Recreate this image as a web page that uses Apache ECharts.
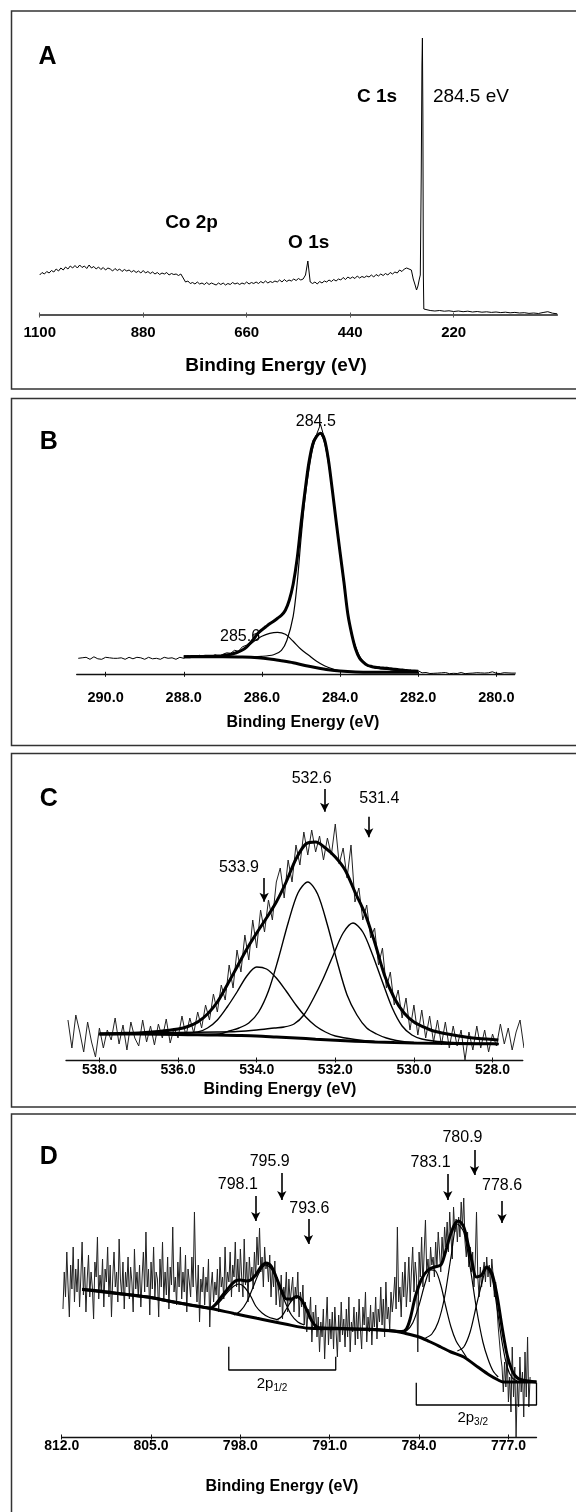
<!DOCTYPE html>
<html><head><meta charset="utf-8">
<script src="https://cdn.jsdelivr.net/npm/echarts@6.0.0/dist/echarts.min.js"></script>
<style>html,body{margin:0;padding:0;background:#fff}#c{width:576px;height:1512px}</style>
</head><body><div id="c"></div>
<script>
// ---------------- Panel A : survey spectrum (intensity, arbitrary units) ----------------
const aSurveyStart = 1100, aSurveyStep = 5;
const aSurvey = [40,42.5,41,43.5,42,44.5,43,46,44,47,45,48,46,49,47,
 49.5,47,50,47.5,49,46.5,50,47,48.5,46,48,45.5,47.5,45,47,46,
 44,46.5,44.5,46,43.5,45.5,44,45,43,44.5,42.5,44,42,44.5,42,43.5,
 41.5,43,41,42.5,40.5,42,41,42.5,40,41.5,40.5,41,39.5,41,
 37,33,34,31.5,32.5,31,33,31,32,30.5,32.5,30.5,32,31,30,32,30.5,32,30,31.5,
 30.5,32.5,31,32,30.5,32,31,33,31,32.5,31.5,33,31.5,33.5,32,34,32,33.5,32.5,34,33,35,33,35.5,33.5,35,34,36,34.5,36.5,35,36,
 40,54,33,
 31.5,33,31,33.5,32,34,33,35,33.5,35.5,34,36,35,37.5,35.5,38,36.5,
 38,36.5,39,37,38.5,37.5,39,38,40,38,40.5,39,41,39.5,41.5,40,42.5,41,43,42,45,43.5,46,47];
const aPeakEnergy = [315,310,306,302,299,296,293,291,289,287.5,286.5,285.5,284.5,283.5,282];
const aPeakIntensity = [46,45,36,30,25,29,36,40,140,250,277,200,40,6,5];
const aTailStart = 280, aTailStep = 10;
const aTail = [5,4.5,4,4.5,3.8,4.2,3.5,4,3.3,3.8,3,3.5,2.8,3.2,2.6,3,2.4,2.8,2.2,2.6,2,2.3,1.6,2,1.5,2.5,3.3,1.8,1.2];
const aTicks = [1100,880,660,440,220];
const aBoldLabels = ['C 1s','Co 2p','O 1s'];
const aBoldLabelX = [383,777.3,528.2];
const aBoldLabelY = [218.3,92.3,72.7];
const aNormLabels = ['284.5 eV'];
const aNormLabelX = [183.4];
const aNormLabelY = [218.3];

// ---------------- Panel B : C 1s ----------------
const bRawHeadStart = 290.7, bRawHeadStep = 0.05;
const bRawHead = [16,15,16.5,15.5,17,16,15,16,17.5,16, 15.5,16.5,15,16,17,16,16.5,15,16,17,
 16,18,16.5,16,15,16.5,17,16,15.5,16, 17,18,16.5,16,15,16.5,17,16,15.5,17,
 16,16.5,15,16,17,15.5,16,17,16.5,16, 15,16,17,16.5,16];
const bRawMidStart = 287.9, bRawMidStep = 0.1;
const bRawMid = [18.5,17,18,19,17.5,18.5,17,19.5,18,20,21.5,21,24,23,27.5,29,32,34,40,44,48,50,54,55,60,63,75,88,117,148,
 184,210,233,240,250,236,214,187,151,124,90,62,38,27,15,13,8,9,6,7.5,5.5,7,4.5,5.5,3.5,4.5,3,4,2.5,3.5];
const bRawTailStart = 281.95, bRawTailStep = 0.05;
const bRawTail = [2,1.5,1,1.8,1.2,0.8,1.5,1,2,1.2,0.8,1.5,1,1.8,1.2,0.6,1.4,1,1.6,0.8,1.2,1.8,1,0.6,1.4,
 1,2,1.2,0.8,1.6,1,1.4,0.8,1.2,2.2,1.5,1,2.5,1.8,1,1.4,0.8,1.2,1.6,1,1.4,0.8,1.2,1,1.2];
const bEnvStart = 288.0, bEnvStep = 0.1;
const bEnv = [17.6,17.6,17.7,17.7,17.8,17.9,18,18.1,18.2,18.3, 18.6,19.2,20,21,22.5,24.3,27,31,36,41,
 44.5,47.5,50.5,53,56,59,64,74,90,115, 150,182,211,230,238,241,235,215,185,153,
 122,92,60,40,25,16,12,9,7.8,7, 6.5,6.2,6,5.5,5,4.6,4.2,3.8,3.5,3.2, 3];
const bComp1 = [[287.6,17.8],[287.2,18.3],[286.9,19.5],[286.6,22],[286.4,27],[286.2,33],[286,38],[285.8,41],[285.6,42],[285.4,40],[285.2,33],[285,25],[284.8,19],[284.6,13],[284.4,8.5],[284.2,5.5],[284,3.5],[283.8,2.6]];
const bComp2 = [[287.5,17.6],[286.5,17.5],[286,18],[285.7,19.5],[285.5,24],[285.36,34],[285.2,58],[285.1,90],[285,135],[284.9,175],[284.8,204],[284.7,226],[284.6,238],[284.52,241],[284.4,232],[284.3,212],[284.2,185],[284.1,153],[284,122],[283.9,90],[283.8,60],[283.7,40],[283.6,27],[283.5,18],[283.4,12.5],[283.3,9],[283.1,6.5],[282.8,5],[282.4,3.5],[282,2.8]];
const bBase = [[288,17.6],[287,17.5],[286.5,17.2],[286.1,16.5],[285.8,15.3],[285.5,13.5],[285.2,11.5],[284.9,8.8],[284.6,6.5],[284.3,4.5],[284,3.2],[283.6,2.4],[283,2.1],[282.5,2],[282,2]];
const bTicks = [290,288,286,284,282,280];
const bLabels = ['284.5','285.6'];
const bLabelX = [284.62,286.56];
const bLabelY = [252.6,37.6];

// ---------------- Panel C : O 1s ----------------
const cRawStart = 538.8, cRawStep = 0.1;
const cRaw = [40,12,45,28,8,38,18,3,32,12, 30,20,42,16,35,10,38,22,14,40, 18,34,15,36,22,41,17,32,22,44,
 24,42,27,48,32,55,40,66,48,75, 60,95,72,110,88,125,100,140,112,150, 128,160,140,178,192,162,200,178,215,195,
 228,205,230,208,224,200,222,205,236,196, 212,182,215,158,172,140,155,122,132,95, 112,72,88,55,70,42,62,30,55,25,
 50,22,44,18,40,15,38,12,34,14, 30,0,28,10,34,12,30,8,26,14, 36,16,32,10,28,40,12];
const cEnv = [[538,26],[537.5,26.5],[537,27],[536.5,28.5],[536,31],[535.75,33.5],[535.5,38],[535.25,46],[535,58],[534.75,75],[534.5,93],[534.25,111],[534,127],[533.75,142],[533.5,158],[533.25,178],[533,201],[532.75,216],[532.5,218],[532.25,212],[532,203],[531.75,190],[531.5,168],[531.25,147],[531,118],[530.75,85],[530.5,62],[530.25,47],[530,38],[529.75,33],[529.5,29],[529,25],[528.5,22],[528,20.5],[527.85,20]];
const cComp1 = [[538,26],[537,26.2],[536,26.5],[535.5,28],[535.25,32],[535,40],[534.75,53],[534.5,68],[534.25,84],[534,93],[533.75,91],[533.5,82],[533.25,69],[533,55],[532.75,43],[532.5,34],[532.25,28],[532,24],[531.5,20.5],[531,18.5],[530,17],[529,16.5],[527.85,16]];
const cComp2 = [[538,26],[536,25.6],[535.5,25.5],[534.95,26],[534.7,29],[534.45,32],[534.2,37],[533.95,48],[533.7,69],[533.45,101],[533.2,137],[532.95,167],[532.7,178],[532.45,166],[532.2,135],[531.95,98],[531.7,65],[531.45,45],[531.2,32],[530.95,26],[530.7,22],[530.45,19.5],[530.2,18],[529.9,17.2],[529,16.5],[527.85,16]];
const cComp3 = [[538,26.5],[537,27],[536,27.5],[535,28],[534.5,28.5],[534,30],[533.55,32],[533.3,33],[533.05,36],[532.8,45],[532.55,62],[532.3,82],[532.05,105],[531.8,127],[531.55,137],[531.3,128],[531.05,105],[530.8,78],[530.55,52],[530.3,34],[530.05,25],[529.8,21],[529.5,19],[529,17.5],[528.5,16.8],[527.85,16.3]];
const cBase = [[538,26],[537,25.9],[536,25.5],[535.5,25.2],[535,24.9],[534.5,24.5],[534,24],[533.5,23],[533,22],[532.5,20.8],[532,19.8],[531.5,18.8],[531,18],[530.5,17.4],[530,17],[529,16.5],[528,16.2],[527.85,16]];
const cTicks = [538,536,534,532,530,528];
const cLabels = ['532.6','531.4','533.9'];
const cLabelX = [532.6,530.88,534.45];
const cLabelY = [281.7,261,192.3];
const cArrowX = [532.27,531.15,533.81];
const cArrowTop = [271,243.3,182];
const cArrowBottom = [248.3,222.7,158.3];

// ---------------- Panel D : Co 2p ----------------
const dRawStart = 811.9, dRawStep = 0.1;
const dRaw = [
 128,165,140,185,150,120,172,148,190,135,
 168,145,178,130,160,195,142,170,125,158,
 182,140,165,150,118,175,160,200,138,162,
 145,178,130,168,155,190,140,172,120,160,
 185,150,165,135,198,158,142,175,128,165,
 150,180,138,170,155,125,188,148,165,140,
 172,130,160,185,145,205,150,168,122,175,
 148,190,140,165,158,120,178,150,195,138,
 165,142,180,128,170,152,210,145,160,132,
 175,150,190,138,165,145,182,125,168,155,
 140,180,150,225,160,135,172,115,158,145,
 170,132,160,145,178,110,150,165,135,155,
 142,168,125,180,150,160,138,190,148,165,
 155,185,140,172,160,195,150,178,145,188,
 160,140,198,152,175,135,180,158,170,148,
 185,160,200,172,209,165,180,150,190,168,
 175,155,182,140,168,150,176,132,160,145,
 130,162,118,150,140,165,125,158,135,148,
 160,125,150,138,165,120,145,130,152,112,
 135,105,128,118,140,95,125,110,132,100,
 120,85,115,100,128,78,112,140,92,118,
 98,125,88,130,105,80,122,95,135,102,
 118,90,128,100,140,85,115,105,130,92,
 125,98,138,108,88,130,112,145,95,120,
 105,132,92,125,110,140,98,128,115,150,
 112,138,100,155,118,130,108,145,125,140,
 160,128,210,135,150,120,165,140,175,130,
 150,180,135,165,190,145,175,160,85,185,
 160,200,150,185,217,165,178,155,190,172,
 180,160,195,170,205,185,165,200,178,210,
 190,215,185,225,200,178,230,205,218,195,
 220,200,235,210,239,195,180,205,170,190,
 165,185,150,175,225,160,140,170,150,165,
 175,155,180,160,172,150,178,162,140,155,
 130,110,95,80,70,45,75,50,85,35,
 60,25,90,40,70,0,55,30,80,45,
 65,20,85,40,100,30,60];
const dEnv = [[810.4,147.5],[809,146],[807.5,143.5],[806,141],[805,139.5],[804,137],[803,134.5],[802,132],[801,130],[800.4,128.7],[800,132],[799.5,140],[799,148],[798.4,156],[798,157],[797.5,156],[797.2,157],[796.8,162],[796.4,170],[796,174],[795.6,171],[795.2,160],[794.8,147],[794.4,138],[794,138],[793.6,140.5],[793.2,137],[792.8,127],[792.4,116],[792,110],[791.5,109],[790,108.5],[788,107.7],[786,106],[785.4,105.5],[785,108],[784.7,118],[784.3,140],[783.8,158],[783.3,167],[782.8,170],[782.3,172],[782,182],[781.6,200],[781.2,213],[780.9,216],[780.5,210],[780.2,195],[779.9,178],[779.5,160],[779.1,162],[778.7,170],[778.3,164],[777.9,142],[777.5,110],[777.1,82],[776.7,66],[776.3,59],[775.9,57],[774.8,55]];
const dBase = [[810.4,147.7],[808,144],[805.3,140],[803,134.5],[800.4,128.7],[798.5,123.5],[796.7,118.7],[794.5,113],[792.6,108.7],[790,108.2],[788,107.7],[786,106],[785.1,103.7],[784,100],[783.2,95.5],[782.3,90],[781.5,85],[780.5,80],[779.4,70],[778.5,62],[777.8,57],[777.4,55],[774.8,55]];
const dComp1 = [[800.5,128.5],[800,131],[799.5,137],[799,145],[798.5,151],[798.1,153],[797.7,150],[797.2,141],[796.8,131],[796.3,124],[795.8,120],[795,117]];
const dComp2 = [[798.5,122],[798,126],[797.5,135],[797,150],[796.5,165],[796,172],[795.5,167],[795,152],[794.5,135],[794,122],[793.5,115],[793,112]];
const dComp3 = [[795.2,117],[794.8,120],[794.4,128],[794,136],[793.6,140],[793.2,136],[792.8,126],[792.4,116],[792,110],[791.5,108.5]];
const dComp4 = [[785.5,104.5],[785,106],[784.5,114],[784,132],[783.5,155],[783.1,167],[782.7,166],[782.3,152],[781.9,130],[781.5,110],[781.1,96],[780.7,88],[780.3,80]];
const dComp5 = [[783.5,99],[783,103],[782.5,115],[782,140],[781.5,180],[781,213],[780.5,205],[780,170],[779.5,128],[779,95],[778.6,78],[778.2,66],[777.8,60]];
const dComp6 = [[781,86],[780.5,90],[780,105],[779.5,132],[779,158],[778.7,169],[778.3,160],[777.9,130],[777.5,95],[777.1,70],[776.7,59],[776.3,56]];
const dTicks = [812,805,798,791,784,777];
const dLabels = ['798.1','795.9','793.6','783.1','780.9','778.6'];
const dLabelX = [798.2,795.7,792.6,783.1,780.6,777.5];
const dLabelY = [252,275,228,274,299,251];
const dArrowX = [796.8,794.76,792.67,781.75,779.66,777.5];
const dArrowTop = [241,264,218,263,287,236];
const dArrowBottom = [216,237,193,237,262,214];
const dBracketHalf = [[798.91,90.3],[798.91,67],[790.53,67],[790.53,80.3]];
const dBracketThreeHalf = [[784.22,54.3],[784.22,32],[774.8,32],[774.8,54.3]];
const dBracketLabelX = [795.52,779.8];
const dBracketLabelY = [53,18.7];
const dBracketSub = ['1/2','3/2'];

// ---------------- helpers ----------------
const FONT = '"Liberation Sans", Arial, Helvetica, sans-serif';
const seq = (start, step, vals) => vals.map((v, i) => [+(start - i * step).toFixed(3), v]);
const zip = (xs, ys) => xs.map((x, i) => [x, ys[i]]);
const named = (names, xs, ys) => names.map((n, i) => ({ name: n, value: [xs[i], ys[i]] }));

const grids = [
  { left: 39.7, right: 18.8, top: 37, height: 278 },
  { left: 76.7, right: 61.3, top: 424.3, height: 250 },
  { left: 66, right: 53.2, top: 770, height: 290 },
  { left: 61.7, right: 39.5, top: 1130, height: 307 }
];
const xr = [[0, 1100], [279.53, 290.74], [527.23, 538.85], [774.8, 812]];
const ymax = [278, 250, 290, 307];
const ticks = [aTicks, bTicks, cTicks, dTicks];
const fmt = [v => String(v), v => v.toFixed(1), v => v.toFixed(1), v => v.toFixed(1)];
const labFs = [15, 14.5, 14, 14];
const labMargin = [10, 16, 3, 2];
const axColor = ['#555', '#111', '#111', '#111'];
const axWidth = [1.8, 1.3, 1.3, 1.3];

const xAxes = [];
for (let g = 0; g < 4; g++) {
  xAxes.push({
    type: 'value', gridIndex: g, min: xr[g][0], max: xr[g][1], inverse: true, position: 'bottom',
    splitLine: { show: false },
    axisLine: { show: true, onZero: false, lineStyle: { color: axColor[g], width: axWidth[g] } },
    axisTick: { show: true, customValues: ticks[g], inside: false, length: 2.5, lineStyle: { color: axColor[g], width: 1 } },
    axisLabel: { show: true, customValues: ticks[g], formatter: fmt[g], margin: labMargin[g], color: '#000',
      fontSize: labFs[g], fontWeight: 'bold', fontFamily: FONT }
  });
}
for (let g = 0; g < 4; g++) {
  xAxes.push({
    type: 'value', gridIndex: g, min: xr[g][0], max: xr[g][1], inverse: true, position: 'bottom',
    splitLine: { show: false }, axisLine: { show: false },
    axisTick: { show: true, customValues: ticks[g], inside: true, length: 2.5, lineStyle: { color: axColor[g], width: 1 } },
    axisLabel: { show: false }
  });
}
const yAxes = grids.map((gr, g) => ({ type: 'value', gridIndex: g, min: 0, max: ymax[g], show: false }));

function line(g, data, width, smooth, color) {
  return { type: 'line', xAxisIndex: g, yAxisIndex: g, data, symbol: 'none', showSymbol: false,
    smooth: smooth || false, clip: false, silent: true, animation: false,
    lineStyle: { color: color || '#000', width } };
}
function texts(g, items, fs, bold, arrows) {
  const s = { type: 'scatter', xAxisIndex: g, yAxisIndex: g, symbolSize: 0, clip: false, silent: true, animation: false,
    itemStyle: { opacity: 1, color: '#000' },
    data: items,
    label: { show: true, position: 'inside', formatter: '{b}', color: '#000', opacity: 1, fontSize: fs,
      fontWeight: bold ? 'bold' : 'normal', fontFamily: FONT, textBorderWidth: 0 } };
  if (arrows) {
    s.markLine = { silent: true, animation: false, symbol: ['none', 'arrow'], symbolSize: [7, 9],
      label: { show: false }, emphasis: { disabled: true },
      lineStyle: { color: '#000', width: 1.6, type: 'solid', opacity: 1 },
      data: arrows[0].map((x, i) => [{ coord: [x, arrows[1][i]] }, { coord: [x, arrows[2][i]] }]) };
  }
  return s;
}

const aData = seq(aSurveyStart, aSurveyStep, aSurvey).concat(zip(aPeakEnergy, aPeakIntensity), seq(aTailStart, aTailStep, aTail));
const bRaw = seq(bRawHeadStart, bRawHeadStep, bRawHead).concat(seq(bRawMidStart, bRawMidStep, bRawMid), seq(bRawTailStart, bRawTailStep, bRawTail));

const series = [
  line(0, aData, 1),
  texts(0, named(aBoldLabels, aBoldLabelX, aBoldLabelY), 19, true),
  texts(0, named(aNormLabels, aNormLabelX, aNormLabelY), 19, false),

  line(1, bRaw, 1),
  line(1, bComp1, 1.2, 0.3),
  line(1, bComp2, 1.2, 0.3),
  line(1, bBase, 3, 0.3),
  line(1, seq(bEnvStart, bEnvStep, bEnv), 3, 0.3),
  texts(1, named(bLabels, bLabelX, bLabelY), 16, false),

  line(2, seq(cRawStart, cRawStep, cRaw), 1, false, '#222'),
  line(2, cComp1, 1.4, 0.3),
  line(2, cComp2, 1.4, 0.3),
  line(2, cComp3, 1.4, 0.3),
  line(2, cBase, 3, 0.3),
  line(2, cEnv, 3, 0.3),
  texts(2, named(cLabels, cLabelX, cLabelY), 16, false, [cArrowX, cArrowTop, cArrowBottom]),

  line(3, seq(dRawStart, dRawStep, dRaw), 1, false, '#222'),
  line(3, dComp1, 1.2, 0.3), line(3, dComp2, 1.2, 0.3), line(3, dComp3, 1.2, 0.3),
  line(3, dComp4, 1.2, 0.3), line(3, dComp5, 1.2, 0.3), line(3, dComp6, 1.2, 0.3),
  line(3, dBase, 3, 0.3),
  line(3, dEnv, 3, 0.3),
  line(3, dBracketHalf, 1.3),
  line(3, dBracketThreeHalf, 1.3),
  texts(3, named(dLabels, dLabelX, dLabelY), 16, false, [dArrowX, dArrowTop, dArrowBottom]),
  { type: 'scatter', xAxisIndex: 3, yAxisIndex: 3, symbolSize: 0, clip: false, silent: true, animation: false,
    itemStyle: { opacity: 1, color: '#000' },
    data: named(dBracketSub, dBracketLabelX, dBracketLabelY),
    label: { show: true, position: 'inside', formatter: p => '2p{s|' + p.name + '}', color: '#000', opacity: 1, fontSize: 15, fontFamily: FONT,
      rich: { s: { fontSize: 10, fontFamily: FONT, color: '#000', padding: [8, 0, 0, 0] } } } }
];

function txt(t, x, y, size, bold, align) {
  return { type: 'text', silent: true, style: { text: t, x, y, fill: '#000',
    font: (bold ? 'bold ' : '') + size + 'px ' + FONT, textAlign: align || 'center', textVerticalAlign: 'middle',
    align: align || 'center', verticalAlign: 'middle' } };
}
function box(y, h) {
  return { type: 'rect', silent: true, shape: { x: 11.5, y, width: 620, height: h },
    style: { fill: 'none', stroke: '#333', lineWidth: 1.5 } };
}
const graphic = [
  box(11, 378), box(398.5, 347), box(753.5, 353.5), box(1114, 430),
  txt('A', 38.5, 57, 25, true, 'left'), txt('B', 39.7, 441.7, 25, true, 'left'),
  txt('C', 39.7, 799.3, 25, true, 'left'), txt('D', 39.7, 1157, 25, true, 'left'),
  txt('Binding Energy (eV)', 276, 366, 19, true), txt('Binding Energy (eV)', 303, 723, 16, true),
  txt('Binding Energy (eV)', 280, 1090, 16, true), txt('Binding Energy (eV)', 282, 1487, 16, true)
];

const chart = echarts.init(document.getElementById('c'), null, { renderer: 'canvas', width: 576, height: 1512 });
chart.setOption({ animation: false, backgroundColor: '#fff', grid: grids, xAxis: xAxes, yAxis: yAxes, series, graphic });
</script></body></html>
